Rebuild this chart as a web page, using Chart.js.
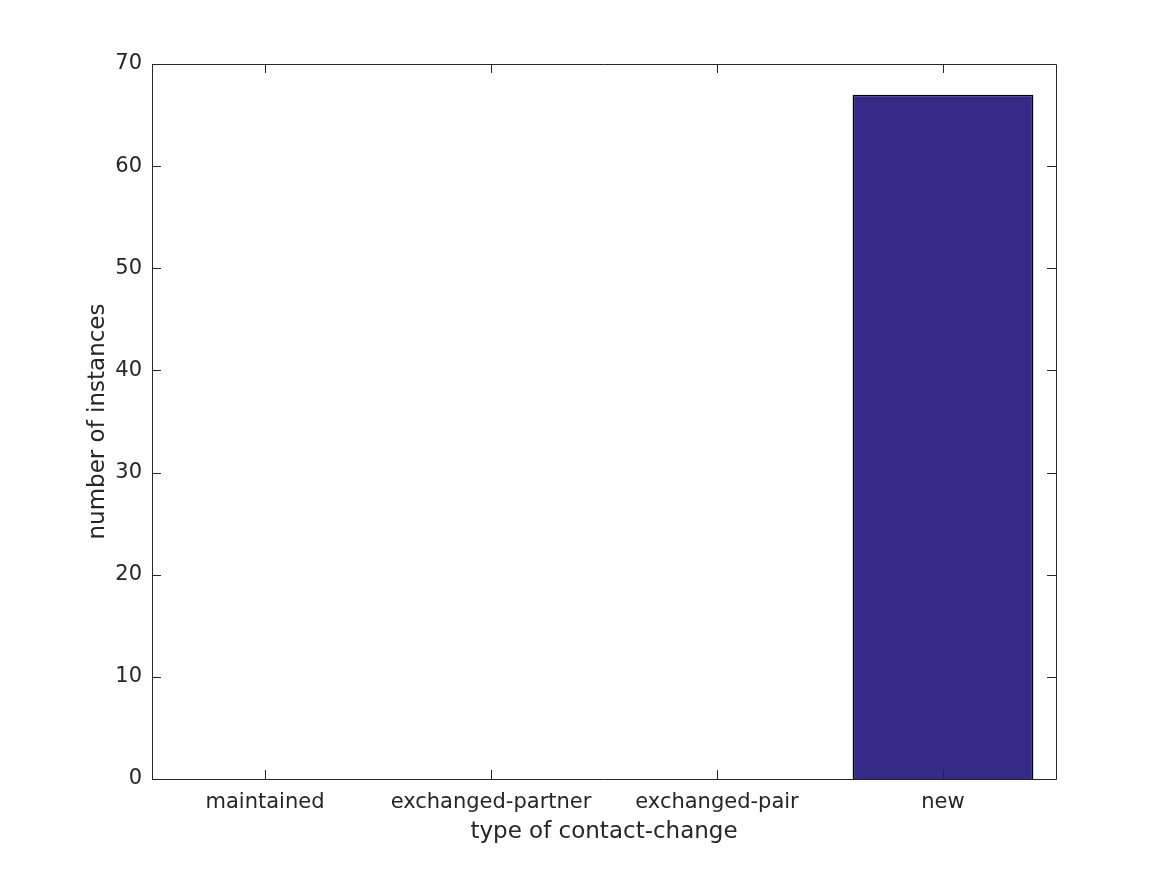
<!DOCTYPE html>
<html>
<head>
<meta charset="utf-8">
<script src="https://cdn.jsdelivr.net/npm/chart.js@4"></script>
<style>
    html, body { margin: 0; padding: 0; background: #fff; }
    canvas { display: block; }
</style>
</head>
<body>
<canvas id="contactChart" width="1167" height="875"></canvas>
<script>
const categories = ['maintained', 'exchanged-partner', 'exchanged-pair', 'new'];
const instances = [0, 0, 0, 67];
const yTicks = [0, 10, 20, 30, 40, 50, 60, 70];

const axisColor = '#262626';
const fontFamily = '"DejaVu Sans", sans-serif';

// matlab style box with inward ticks on all four sides
const boxTicks = {
    id: 'boxTicks',
    afterDraw(chart) {
        const { ctx, chartArea: a, scales } = chart;
        const len = 9;
        ctx.save();
        ctx.strokeStyle = axisColor;
        ctx.lineWidth = 1;
        ctx.beginPath();
        ctx.rect(a.left + 0.5, a.top + 0.5, a.right - a.left, a.bottom - a.top);
        yTicks.forEach((v) => {
            const y = Math.round(scales.y.getPixelForValue(v)) + 0.5;
            ctx.moveTo(a.left, y);
            ctx.lineTo(a.left + len, y);
            ctx.moveTo(a.right, y);
            ctx.lineTo(a.right - len, y);
        });
        categories.forEach((c, i) => {
            const x = Math.round(scales.x.getPixelForValue(i)) + 0.5;
            ctx.moveTo(x, a.bottom);
            ctx.lineTo(x, a.bottom - len);
            ctx.moveTo(x, a.top);
            ctx.lineTo(x, a.top + len);
        });
        ctx.stroke();
        ctx.restore();
    },
};

new Chart(document.getElementById('contactChart'), {
    type: 'bar',
    data: {
        labels: categories,
        datasets: [
            {
                data: instances,
                backgroundColor: '#352a87',
                borderColor: '#000000',
                borderWidth: 1.5,
                barPercentage: 0.8,
                categoryPercentage: 1,
            },
        ],
    },
    options: {
        responsive: false,
        animation: false,
        layout: {
            padding: { top: 64, right: 111, left: 0, bottom: 0 },
        },
        plugins: {
            legend: { display: false },
            tooltip: { enabled: false },
        },
        scales: {
            x: {
                grid: { display: false, drawTicks: false },
                border: { display: false },
                ticks: {
                    color: axisColor,
                    padding: 11,
                    font: { family: fontFamily, size: 21 },
                    maxRotation: 0,
                },
                title: {
                    display: true,
                    text: 'type of contact-change',
                    color: axisColor,
                    font: { family: fontFamily, size: 23 },
                    padding: { top: 0, bottom: 29 },
                },
                afterFit(scale) {
                    scale.height = 96;
                },
            },
            y: {
                min: 0,
                max: 70,
                grid: { display: false, drawTicks: false },
                border: { display: false },
                afterBuildTicks(scale) {
                    scale.ticks = yTicks.map((v) => ({ value: v }));
                },
                ticks: {
                    color: axisColor,
                    padding: 10,
                    font: { family: fontFamily, size: 21 },
                },
                title: {
                    display: true,
                    text: 'number of instances',
                    color: axisColor,
                    font: { family: fontFamily, size: 23 },
                    padding: { top: 84, bottom: 0 },
                },
                afterFit(scale) {
                    scale.width = 152;
                },
            },
        },
    },
    plugins: [boxTicks],
});
</script>
</body>
</html>
